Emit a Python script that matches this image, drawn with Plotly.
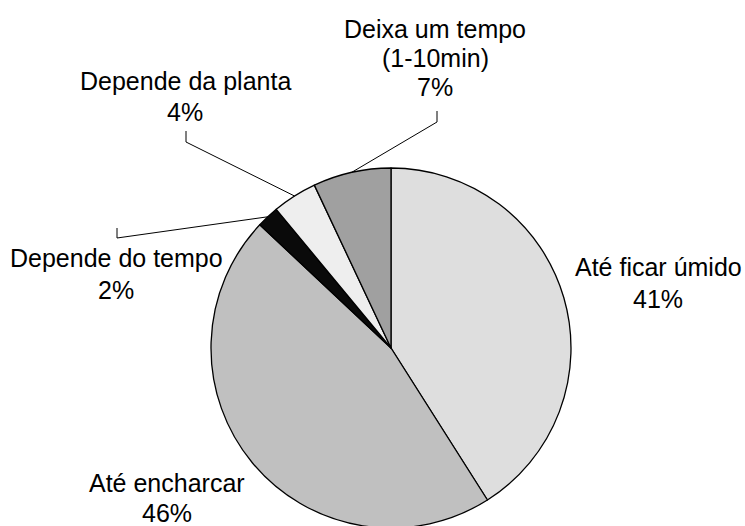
import math
import plotly.graph_objects as go

# Responses (pt-BR), clockwise from 12 o'clock
labels = ["Até ficar úmido", "Até encharcar", "Depende do tempo",
          "Depende da planta", "Deixa um tempo<br>(1-10min)"]
percents = [41, 46, 2, 4, 7]
colors = ["#dedede", "#c0c0c0", "#0a0a0a", "#eeeeee", "#a0a0a0"]

W, H = 745, 530               # a few px taller than the window: pie bottom is cut
CX, CY, R = 391, 348, 180     # pie centre / radius, pixels

def px(x, y):
    return x / W, 1 - y / H

fig = go.Figure(go.Pie(
    labels=labels, values=percents, sort=False, direction="clockwise", rotation=0,
    marker=dict(colors=colors, line=dict(color="black", width=1.3)),
    textinfo="none", hoverinfo="label+percent", showlegend=False,
    domain=dict(x=[px(CX - R, 0)[0], px(CX + R, 0)[0]],
                y=[px(0, CY + R)[1], px(0, CY - R)[1]]),
))

# text x centre, y of first line, line step, leader-line elbow (x, y top, y bottom)
label_pos = [(658, 267, 32, None), (167, 483, 30, None), (116, 258, 32, (117, 228, 238)),
             (185, 81, 31, (186, 131, 142)), (435, 29, 29, (437, 111, 122))]

total = sum(percents)
cum = 0
for lab, p, (lx, ly, step, elbow) in zip(labels, percents, label_pos):
    mid = (cum + p / 2) / total * 2 * math.pi
    cum += p
    lines = lab.split("<br>") + [f"{p}%"]
    for i, line in enumerate(lines):
        ax, ay = px(lx, ly + i * step)
        fig.add_annotation(text=line, x=ax, y=ay, xref="paper", yref="paper",
                           xanchor="center", yanchor="middle", showarrow=False,
                           font=dict(family="Liberation Sans, Arial", size=25, color="black"))
    if elbow:
        ex, ey0, ey1 = elbow
        rx, ry = CX + R * math.sin(mid), CY - R * math.cos(mid)
        pts = [px(ex, ey0), px(ex, ey1), px(rx, ry)]
        path = "M {} {} L {} {} L {} {}".format(*[c for pt in pts for c in pt])
        fig.add_shape(type="path", path=path, xref="paper", yref="paper",
                      line=dict(color="black", width=1))

fig.update_layout(width=W, height=H, margin=dict(l=0, r=0, t=0, b=0),
                  paper_bgcolor="white", plot_bgcolor="white")
# drop the page's default body margin so the figure sits at the window corner
fig.write_html("out.html", config={"displayModeBar": False},
               post_script="document.body.style.margin='0';document.body.style.overflow='hidden';")
